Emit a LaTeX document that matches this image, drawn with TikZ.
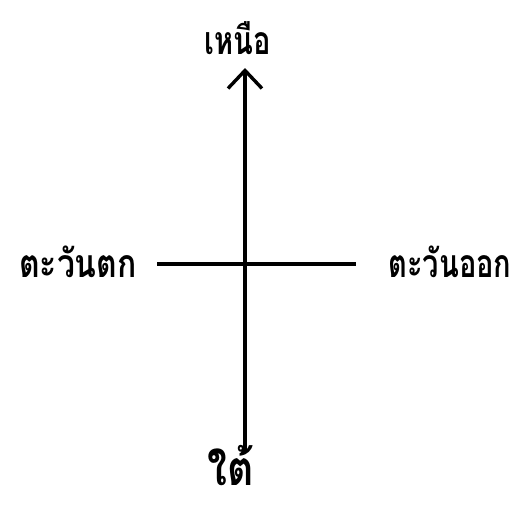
\documentclass[tikz,border=0pt]{standalone}
\usepackage{fontspec}
\newfontfamily\thaifont[Script=Thai]{Loma}
\usetikzlibrary{arrows.meta}
\begin{document}
\begin{tikzpicture}[x=1pt,y=-1pt,
  axis/.style={line width=3.4pt},
  lbl/.style={font=\thaifont\bfseries\fontsize{29}{32}\selectfont, inner sep=0pt},
  big/.style={font=\thaifont\bfseries\fontsize{37}{40}\selectfont, inner sep=0pt}]
\useasboundingbox (0,0) rectangle (528,506);
\coordinate (n) at (245,68);
\coordinate (s) at (245,452);
\coordinate (w) at (157,264);
\coordinate (e) at (356,264);
\draw[axis, -{Straight Barb[length=18pt,width=34pt,line width=3.4pt]}] (s) -- (n);
\draw[axis] (w) -- (e);
\node[lbl] (north) at (238,38) {\scalebox{1}[1.35]{เหนือ}};
\node[lbl] (west) at (78,262) {\scalebox{1.1}[1.35]{ตะวันตก}};
\node[lbl] (east) at (450,262) {\scalebox{1}[1.35]{ตะวันออก}};
\node[big] (south) at (231,466) {\scalebox{1.1}[1.3]{ใต้}};
\end{tikzpicture}
\end{document}
